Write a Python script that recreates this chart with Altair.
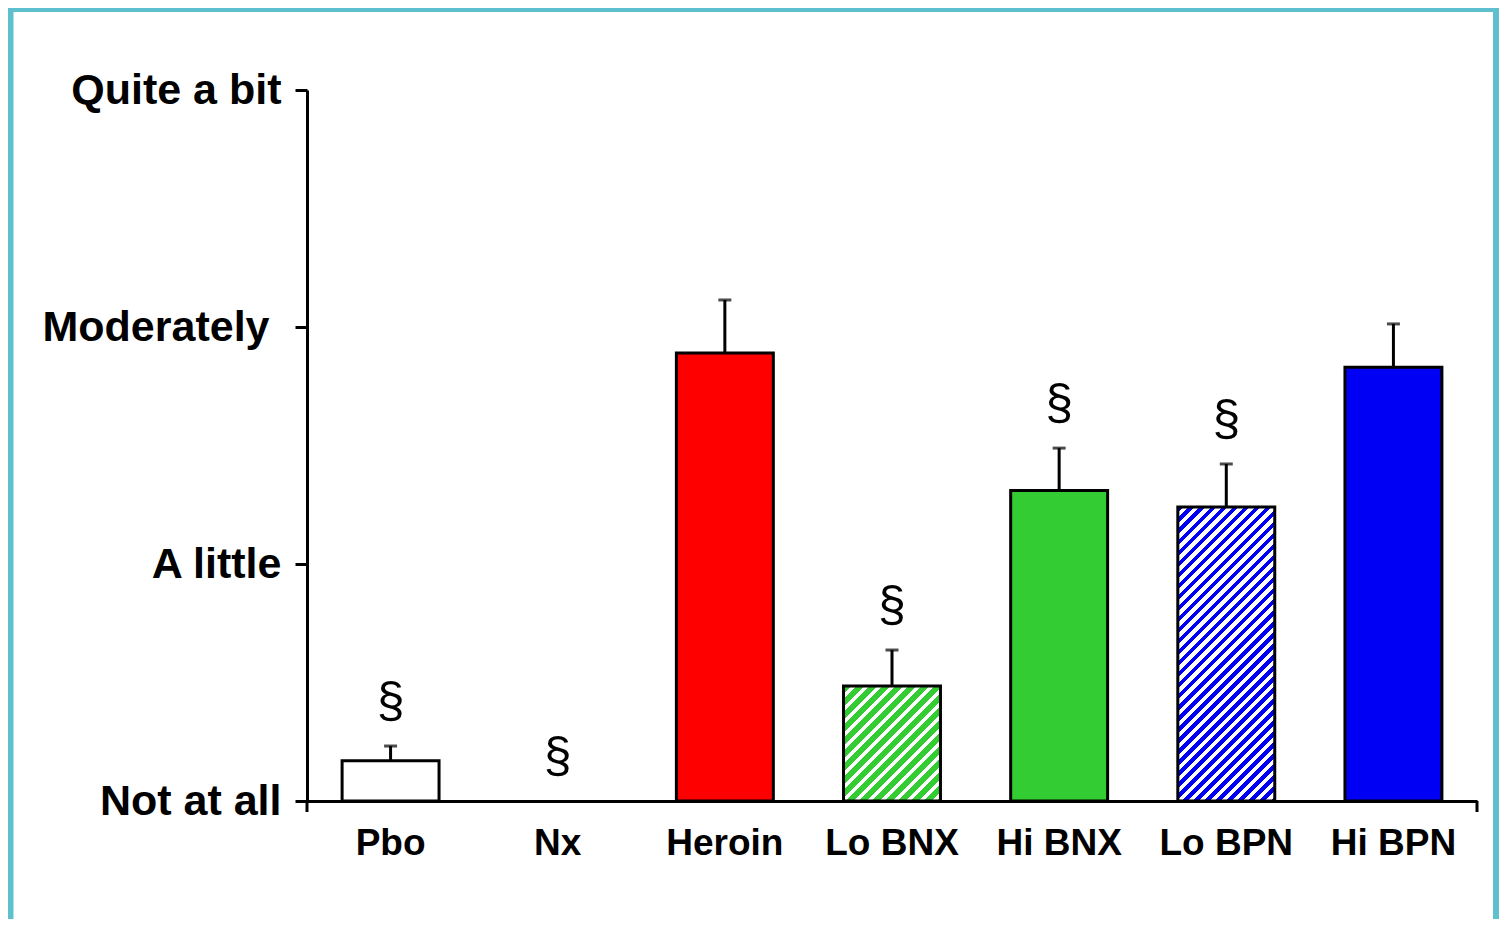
import math
import altair as alt
import pandas as pd

# ---- data ----
categories = ["Pbo", "Nx", "Heroin", "Lo BNX", "Hi BNX", "Lo BPN", "Hi BPN"]
means = [0.17, 0.0, 1.89, 0.485, 1.31, 1.24, 1.83]
err_top = [0.232, 0.0, 2.114, 0.637, 1.489, 1.422, 2.013]
significant = [True, True, False, True, True, True, False]
fill_colors = ["#ffffff", "#ffffff", "#ff0000", "#33cc33", "#33cc33", "#0000f5", "#0000f5"]
hatched = [False, False, False, True, False, True, False]
y_tick_labels = ["Not at all", "A little", "Moderately", "Quite a bit"]

# ---- layout / style ----
W, H = 1170, 711
YMAX = 3
PAD_IN, PAD_OUT = 0.42, 0.21
FONT = "Liberation Sans"
BORDER = "#5ebfce"
PAD = {"left": 299, "top": 82, "right": 22, "bottom": 118}

df = pd.DataFrame({
    "drug": categories,
    "mean": means,
    "err": err_top,
    "sig": significant,
    "fill": fill_colors,
    "hatched": hatched,
})

step = W / (len(categories) - PAD_IN + 2 * PAD_OUT)
bandwidth = step * (1 - PAD_IN)


def hatch_fill(color, value, period_px, frac):
    """Diagonal stripe pattern as a hard-stop linear gradient."""
    w = bandwidth
    h = value / YMAX * H
    s = (w + h) / (w * w + h * h)
    length = (w + h) / math.sqrt(2)
    n = int(length / period_px) + 2
    stops = []
    for k in range(n):
        a = k * period_px / length
        b = (k + frac) * period_px / length
        c = (k + 1) * period_px / length
        if a > 1:
            break
        stops.append({"offset": min(a, 1), "color": color})
        stops.append({"offset": min(b, 1), "color": color})
        stops.append({"offset": min(b, 1), "color": "#ffffff"})
        stops.append({"offset": min(c, 1), "color": "#ffffff"})
    return {"gradient": "linear", "x1": 0, "y1": 0, "x2": s * w, "y2": s * h, "stops": stops}


label_array = "[" + ",".join("'" + t + "'" for t in y_tick_labels) + "]"

base = alt.Chart(df)

x_enc = alt.X(
    "drug:N",
    sort=categories,
    title=None,
    scale=alt.Scale(paddingInner=PAD_IN, paddingOuter=PAD_OUT),
    axis=alt.Axis(
        labelAngle=0,
        ticks=False,
        domainColor="black",
        domainWidth=3,
        labelFont=FONT,
        labelFontSize=37,
        labelFontWeight="bold",
        labelColor="black",
        labelPadding=24,
        grid=False,
    ),
)

y_enc = alt.Y(
    "mean:Q",
    title=None,
    scale=alt.Scale(domain=[0, YMAX], nice=False),
    axis=alt.Axis(
        values=[0, 1, 2, 3],
        labelExpr=label_array + "[datum.value]",
        tickSize=12,
        tickWidth=3,
        tickColor="black",
        domainColor="black",
        domainWidth=3,
        labelFont=FONT,
        labelFontSize=43,
        labelFontWeight="bold",
        labelColor="black",
        labelPadding={"condition": {"test": "datum.value == 2", "value": 26}, "value": 14},
        labelLimit=500,
        grid=False,
    ),
)

solid = base.transform_filter("!datum.hatched && datum.mean > 0").mark_bar(
    stroke="black", strokeWidth=3
).encode(x=x_enc, y=y_enc, fill=alt.Fill("fill:N", scale=None))

hatch_layers = []
for name, val, col, hat in zip(categories, means, fill_colors, hatched):
    if not hat:
        continue
    period = 9.2 if "BNX" in name else 7.8
    frac = 0.58 if "BNX" in name else 0.5
    hatch_layers.append(
        base.transform_filter(alt.datum.drug == name)
        .mark_bar(stroke="black", strokeWidth=3, fill=hatch_fill(col, val, period, frac))
        .encode(x=x_enc, y=alt.Y("mean:Q", title=None))
    )

err_rule = base.transform_filter("datum.err > datum.mean").mark_rule(
    color="black", strokeWidth=3
).encode(x=x_enc, y=alt.Y("mean:Q", title=None), y2="err:Q")

err_cap = base.transform_filter("datum.err > datum.mean").mark_tick(
    color="black", size=13, thickness=3
).encode(x=x_enc, y=alt.Y("err:Q", title=None))

sig_text = base.transform_filter("datum.sig").mark_text(
    text="§", font=FONT, fontSize=50, dy=-44, baseline="middle", color="black"
).encode(x=x_enc, y=alt.Y("err:Q", title=None))

dummy = pd.DataFrame({"k": [0]})
end_tick_left = alt.Chart(dummy).mark_rule(color="black", strokeWidth=3).encode(
    x=alt.value(0), y=alt.value(H), y2=alt.value(H + 11)
)
end_tick_right = alt.Chart(dummy).mark_rule(color="black", strokeWidth=3).encode(
    x=alt.value(W), y=alt.value(H), y2=alt.value(H + 11)
)
total_w = PAD["left"] + W + PAD["right"]
frame = alt.Chart(dummy).mark_rect(
    fillOpacity=0, stroke=BORDER, strokeWidth=6
).encode(
    x=alt.value(2.5 - PAD["left"]),
    x2=alt.value(total_w - 3 - PAD["left"]),
    y=alt.value(1 - PAD["top"]),
    y2=alt.value(1200),
)

chart = alt.layer(
    solid, *hatch_layers, err_rule, err_cap, sig_text, end_tick_left, end_tick_right, frame
).properties(
    width=W,
    height=H,
    autosize=alt.AutoSizeParams(type="none"),
    padding=PAD,
    background="white",
).configure_view(stroke=None)

chart.save("out.html", embed_options={"renderer": "svg", "actions": False})
